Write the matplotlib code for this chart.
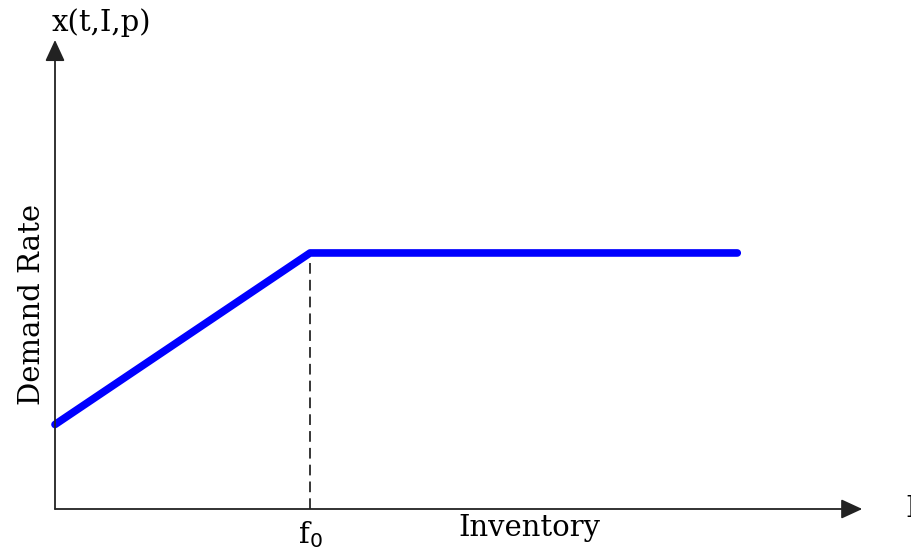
import matplotlib
matplotlib.use("Agg")
import matplotlib.pyplot as plt

# demand rate vs inventory (piecewise: linear up to f0, flat after)
inventory = [0.0, 1.0, 2.675]
demand = [0.33, 1.0, 1.0]
f0 = 1.0
x_tip = 3.165
y_tip = 1.832

plt.rcParams['font.family'] = ['DejaVu Serif']

fig = plt.figure(figsize=(9.12, 5.51), dpi=100)
ax = fig.add_axes([55 / 912, 42 / 551, 857 / 912, 509 / 551])
ax.set_xlim(0, 3.36)
ax.set_ylim(0, 1.988)
ax.axis('off')

# axes with arrow heads
head = '-|>,head_length=1.3,head_width=0.6'
ax.annotate('', xy=(x_tip, 0), xytext=(0, 0),
            arrowprops=dict(arrowstyle=head, color='#222222', lw=1.3,
                            shrinkA=0, shrinkB=0), annotation_clip=False)
ax.annotate('', xy=(0, y_tip), xytext=(0, 0),
            arrowprops=dict(arrowstyle=head, color='#222222', lw=1.3,
                            shrinkA=0, shrinkB=0), annotation_clip=False)

# dashed drop line at f0
ax.plot([f0, f0], [0, demand[1]], color='black', lw=1.1, ls=(0, (7, 4)))

# demand curve
ax.plot(inventory, demand, color='#0000ff', lw=5.5, solid_capstyle='round', clip_on=False)

fs = 21
ax.text(-0.012, 1.90, 'x(t,I,p)', fontsize=fs, ha='left', va='center')
ax.text(-0.09, 0.80, 'Demand Rate', fontsize=fs, rotation=90, ha='center', va='center')
ax.text(f0, -0.10, r'f$_0$', fontsize=fs, ha='center', va='center')
ax.text(1.86, -0.075, 'Inventory', fontsize=fs, ha='center', va='center')
ax.text(3.335, 0.0, 'I', fontsize=fs, ha='left', va='center', clip_on=False)

fig.savefig('out.png', dpi=100)
